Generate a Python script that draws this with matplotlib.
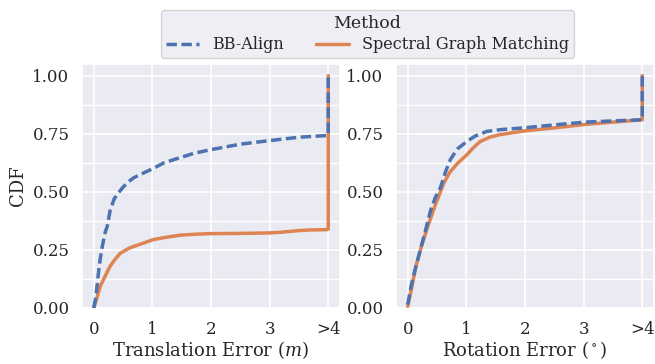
import numpy as np
import matplotlib
matplotlib.use("Agg")
import matplotlib.pyplot as plt
import seaborn as sns
from matplotlib.ticker import MultipleLocator

# translation error CDF (x in m, x=4 stands for ">4")
trans_x_bb = [0.0, 0.03, 0.056, 0.08, 0.11, 0.15, 0.2, 0.23, 0.28, 0.35, 0.42, 0.5, 0.6, 0.68,
              0.8, 1.01, 1.2, 1.46, 1.7, 1.97, 2.5, 2.99, 3.5, 3.97, 4.0, 4.0]
trans_y_bb = [0.0, 0.04, 0.093, 0.15, 0.21, 0.27, 0.33, 0.35, 0.42, 0.47, 0.495, 0.52, 0.545, 0.56,
              0.575, 0.60, 0.625, 0.646, 0.665, 0.68, 0.705, 0.72, 0.735, 0.742, 0.745, 1.0]
trans_x_sg = [0.0, 0.05, 0.11, 0.2, 0.28, 0.35, 0.45, 0.51, 0.6, 0.68, 0.8, 1.01, 1.2, 1.46,
              1.7, 1.97, 2.5, 2.99, 3.2, 3.49, 3.7, 3.97, 4.0, 4.0]
trans_y_sg = [0.0, 0.04, 0.093, 0.14, 0.18, 0.205, 0.235, 0.244, 0.257, 0.265, 0.275, 0.294, 0.303, 0.313,
              0.317, 0.32, 0.321, 0.323, 0.326, 0.333, 0.336, 0.337, 0.34, 1.0]

# rotation error CDF (degrees)
rot_x_bb = [0.0, 0.056, 0.12, 0.2, 0.3, 0.39, 0.47, 0.56, 0.65, 0.73, 0.85, 1.01, 1.15, 1.35,
            1.6, 1.97, 2.5, 3.03, 3.5, 4.0, 4.0]
rot_y_bb = [0.014, 0.093, 0.16, 0.237, 0.33, 0.42, 0.475, 0.52, 0.59, 0.64, 0.685, 0.717, 0.74, 0.76,
            0.768, 0.775, 0.788, 0.80, 0.805, 0.81, 1.0]
rot_x_sg = [0.0, 0.07, 0.14, 0.24, 0.34, 0.48, 0.62, 0.72, 0.84, 1.01, 1.12, 1.24, 1.4, 1.57,
            1.8, 2.02, 2.5, 3.03, 3.5, 4.0, 4.0]
rot_y_sg = [0.007, 0.09, 0.18, 0.27, 0.35, 0.45, 0.54, 0.585, 0.62, 0.66, 0.69, 0.717, 0.735, 0.746,
            0.755, 0.763, 0.775, 0.79, 0.80, 0.81, 1.0]

xticks = [0, 1, 2, 3, 4]
xticklabels = ["0", "1", "2", "3", ">4"]

sns.set_theme(style="darkgrid")
plt.rcParams["font.family"] = ["DejaVu Serif"]
plt.rcParams["mathtext.fontset"] = "dejavuserif"

blue = "#4C72B0"
orange = "#DD8452"

fig = plt.figure(figsize=(6.55, 3.64), dpi=100)
ax1 = fig.add_axes([82 / 655, 56 / 364, 258 / 655, 244 / 364])
ax2 = fig.add_axes([396 / 655, 56 / 364, 258 / 655, 244 / 364])

for ax, (xs_bb, ys_bb, xs_sg, ys_sg), xlabel in [
    (ax1, (trans_x_bb, trans_y_bb, trans_x_sg, trans_y_sg), "Translation Error ($m$)"),
    (ax2, (rot_x_bb, rot_y_bb, rot_x_sg, rot_y_sg), "Rotation Error ($^\\circ$)"),
]:
    ax.plot(xs_sg, ys_sg, color=orange, lw=2.5, zorder=3, label="Spectral Graph Matching",
            solid_joinstyle="round")
    ax.plot(xs_bb, ys_bb, color=blue, lw=2.5, ls=(0, (3.0, 1.3)), zorder=4, label="BB-Align")
    ax.set_xlim(-0.2, 4.2)
    ax.set_ylim(0, 1.05)
    ax.set_xticks(xticks)
    ax.set_xticklabels(xticklabels)
    ax.set_yticks([0, 0.25, 0.5, 0.75, 1.0])
    ax.set_yticklabels(["0.00", "0.25", "0.50", "0.75", "1.00"])
    ax.yaxis.set_minor_locator(MultipleLocator(0.125))
    ax.grid(which="minor", axis="y", color="white", lw=1.0)
    ax.grid(which="major", color="white", lw=1.2)
    ax.tick_params(labelsize=12, pad=3)
    ax.set_xlabel(xlabel, fontsize=13, labelpad=1)

ax1.set_ylabel("CDF", fontsize=13)

h, l = ax1.get_legend_handles_labels()
leg = fig.legend(h[::-1], l[::-1], title="Method", ncol=2, loc="upper center",
                 bbox_to_anchor=(0.561, 0.995), fontsize=11.5, title_fontsize=12.5,
                 frameon=True, handlelength=2.1, columnspacing=2.0,
                 borderpad=0.3, labelspacing=0.3)

fig.savefig("out.png", dpi=100)
